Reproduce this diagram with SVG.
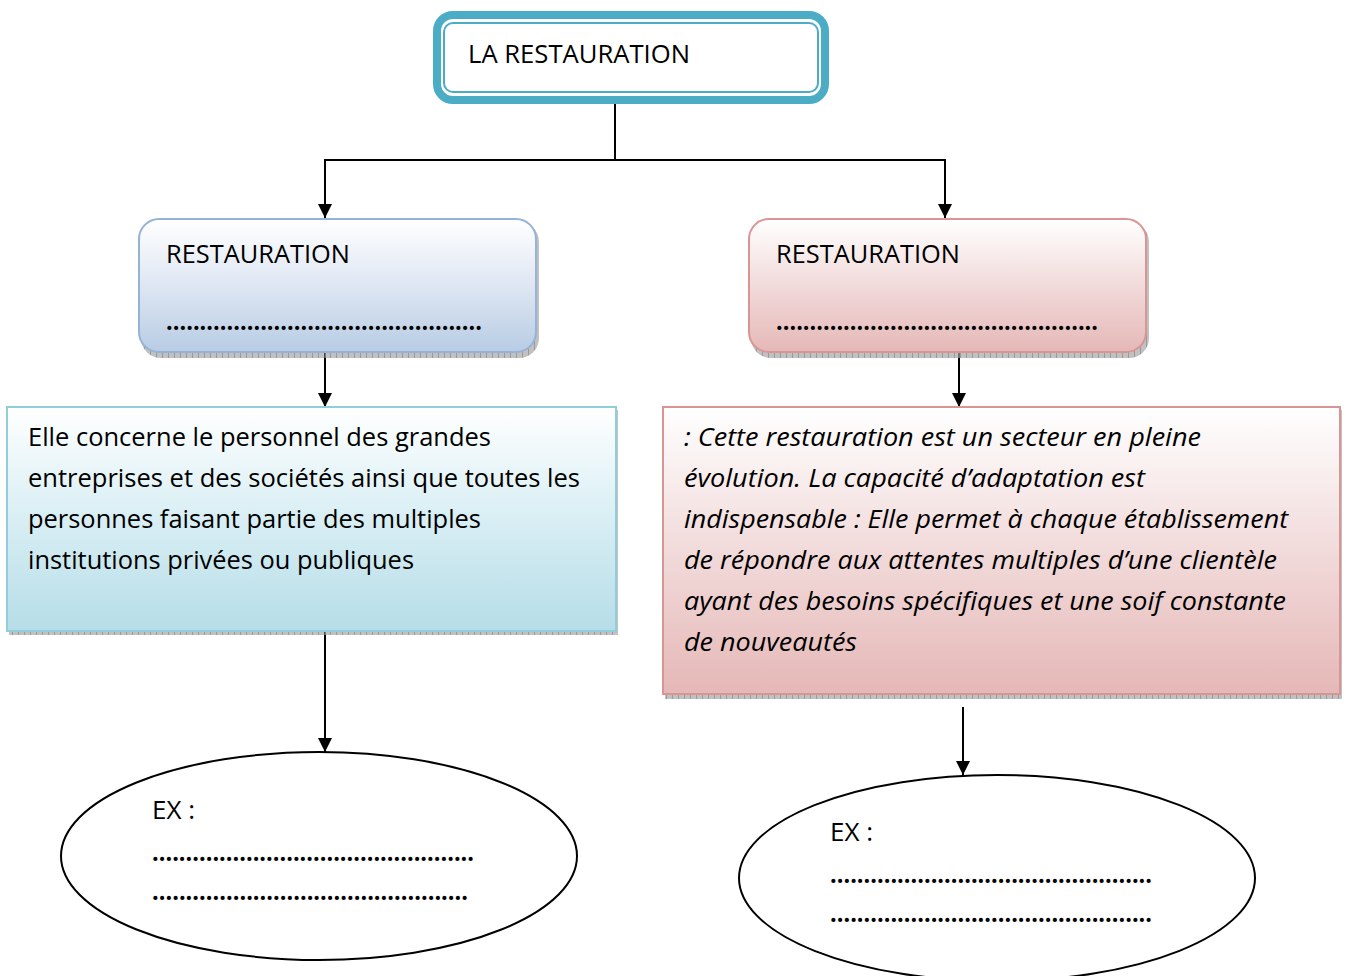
<svg xmlns="http://www.w3.org/2000/svg" width="1346" height="976" viewBox="0 0 1346 976">
<defs>
<linearGradient id="gBlue" x1="0" y1="0" x2="0" y2="1"><stop offset="0" stop-color="#ffffff"/><stop offset="0.45" stop-color="#e2e9f4"/><stop offset="1" stop-color="#b8cce4"/></linearGradient>
<linearGradient id="gPink" x1="0" y1="0" x2="0" y2="1"><stop offset="0" stop-color="#ffffff"/><stop offset="0.45" stop-color="#f3dede"/><stop offset="1" stop-color="#e5b8b7"/></linearGradient>
<linearGradient id="gTeal" x1="0" y1="0" x2="0" y2="1"><stop offset="0" stop-color="#ffffff"/><stop offset="0.45" stop-color="#dcf0f5"/><stop offset="1" stop-color="#b6dde8"/></linearGradient>
<linearGradient id="gRose" x1="0" y1="0" x2="0" y2="1"><stop offset="0" stop-color="#ffffff"/><stop offset="0.45" stop-color="#f3dede"/><stop offset="1" stop-color="#e5b8b7"/></linearGradient>
<pattern id="hatch" width="6" height="4" patternUnits="userSpaceOnUse"><rect width="6" height="4" fill="#a6a6a6"/><rect width="1" height="4" fill="#6e6e6e"/></pattern>
<marker id="arr" markerWidth="14" markerHeight="14" refX="14" refY="7" orient="auto" markerUnits="userSpaceOnUse"><path d="M0,0 L14,7 L0,14 z" fill="#000"/></marker>
</defs>
<style>
.t{font-family:"Open Sans","Liberation Sans",sans-serif;font-size:25px;fill:#000}
.d{font-family:"Open Sans","Liberation Sans",sans-serif;font-size:25px;font-weight:bold;fill:#000}
.i{font-family:"Open Sans","Liberation Sans",sans-serif;font-size:25px;font-style:italic;fill:#000}
.c{fill:none;stroke:#000;stroke-width:2}
.sh{fill:url(#hatch);opacity:0.7}
</style>
<rect width="1346" height="976" fill="#ffffff"/>
<g id="connectors">
<polyline class="c" points="615,104 615,160 325,160 325,218" marker-end="url(#arr)"/>
<polyline class="c" points="615,160 945,160 945,218" marker-end="url(#arr)"/>
<line class="c" x1="325" y1="352" x2="325" y2="407" marker-end="url(#arr)"/>
<line class="c" x1="959" y1="352" x2="959" y2="407" marker-end="url(#arr)"/>
<line class="c" x1="325" y1="631" x2="325" y2="752" marker-end="url(#arr)"/>
<line class="c" x1="963" y1="707" x2="963" y2="775" marker-end="url(#arr)"/>
</g>
<g id="root">
<rect x="437" y="15" width="388" height="85" rx="16" fill="#fff" stroke="#4bacc6" stroke-width="8"/>
<rect x="444" y="23" width="374" height="69" rx="9" fill="none" stroke="#4bacc6" stroke-width="2"/>
<text class="t" x="468" y="63" textLength="222" lengthAdjust="spacingAndGlyphs">LA RESTAURATION</text>
</g>
<g id="restauration-left">
<rect class="sh" x="141" y="222" width="398" height="136" rx="20"/>
<rect x="139" y="219" width="397" height="133" rx="20" fill="url(#gBlue)" stroke="#95b3d7" stroke-width="2"/>
<text class="t" x="166" y="263" textLength="184" lengthAdjust="spacingAndGlyphs">RESTAURATION</text>
<text class="d" x="166" y="330" textLength="316" lengthAdjust="spacingAndGlyphs">...............................................</text>
</g>
<g id="restauration-right">
<rect class="sh" x="751" y="222" width="398" height="136" rx="20"/>
<rect x="749" y="219" width="397" height="133" rx="20" fill="url(#gPink)" stroke="#d99594" stroke-width="2"/>
<text class="t" x="776" y="263" textLength="184" lengthAdjust="spacingAndGlyphs">RESTAURATION</text>
<text class="d" x="776" y="330" textLength="322" lengthAdjust="spacingAndGlyphs">................................................</text>
</g>
<g id="desc-left">
<rect class="sh" x="9" y="410" width="609" height="225"/>
<rect x="7" y="407" width="609" height="224" fill="url(#gTeal)" stroke="#92cddc" stroke-width="2"/>
<text class="t" x="28" y="446" textLength="463" lengthAdjust="spacingAndGlyphs">Elle concerne le personnel des grandes</text>
<text class="t" x="28" y="487" textLength="552" lengthAdjust="spacingAndGlyphs">entreprises et des sociétés ainsi que toutes les</text>
<text class="t" x="28" y="528" textLength="453" lengthAdjust="spacingAndGlyphs">personnes faisant partie des multiples</text>
<text class="t" x="28" y="569" textLength="386" lengthAdjust="spacingAndGlyphs">institutions privées ou publiques</text>
</g>
<g id="desc-right">
<rect class="sh" x="665" y="410" width="677" height="289"/>
<rect x="663" y="407" width="677" height="287" fill="url(#gRose)" stroke="#d99594" stroke-width="2"/>
<text class="i" x="684" y="446" textLength="517" lengthAdjust="spacingAndGlyphs">: Cette restauration est un secteur en pleine</text>
<text class="i" x="684" y="487" textLength="461" lengthAdjust="spacingAndGlyphs">évolution. La capacité d’adaptation est</text>
<text class="i" x="684" y="528" textLength="604" lengthAdjust="spacingAndGlyphs">indispensable : Elle permet à chaque établissement</text>
<text class="i" x="684" y="569" textLength="593" lengthAdjust="spacingAndGlyphs">de répondre aux attentes multiples d’une clientèle</text>
<text class="i" x="684" y="610" textLength="602" lengthAdjust="spacingAndGlyphs">ayant des besoins spécifiques et une soif constante</text>
<text class="i" x="684" y="651" textLength="173" lengthAdjust="spacingAndGlyphs">de nouveautés</text>
</g>
<g id="ex-left">
<ellipse cx="319" cy="856" rx="258" ry="104" fill="#fff" stroke="#000" stroke-width="2"/>
<text class="t" x="152" y="819" textLength="43" lengthAdjust="spacingAndGlyphs">EX :</text>
<text class="d" x="152" y="861" textLength="322" lengthAdjust="spacingAndGlyphs">................................................</text>
<text class="d" x="152" y="900" textLength="316" lengthAdjust="spacingAndGlyphs">...............................................</text>
</g>
<g id="ex-right">
<ellipse cx="997" cy="878" rx="258" ry="103" fill="#fff" stroke="#000" stroke-width="2"/>
<text class="t" x="830" y="841" textLength="43" lengthAdjust="spacingAndGlyphs">EX :</text>
<text class="d" x="830" y="883" textLength="322" lengthAdjust="spacingAndGlyphs">................................................</text>
<text class="d" x="830" y="922" textLength="322" lengthAdjust="spacingAndGlyphs">................................................</text>
</g>
</svg>
